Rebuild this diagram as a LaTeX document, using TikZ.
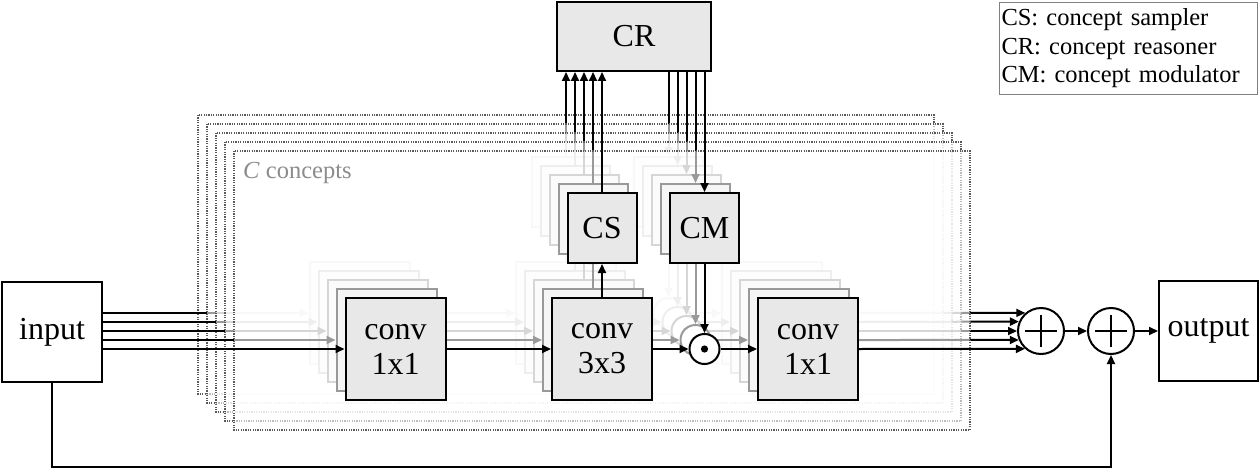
\documentclass[tikz,border=0pt]{standalone}
\usepackage{fontspec}
\setmainfont{Liberation Serif}
\usetikzlibrary{arrows.meta}
\definecolor{boxfill}{gray}{0.91}
\definecolor{framecol}{gray}{0.35}
\definecolor{labelgray}{gray}{0.55}
\newcommand\lblfont{\fontsize{32}{35}\selectfont}
\newcommand\smfont{\fontsize{24.5}{28.5}\selectfont}
\begin{document}
\begin{tikzpicture}[x=1pt,y=-1pt,
  arr/.style={line width=2pt, -{Triangle[length=9pt,width=8pt]}},
  blk/.style={draw, line width=2pt, fill=boxfill, inner sep=0pt},
  plainbox/.style={draw, line width=2pt, fill=white, inner sep=0pt, font=\lblfont},
  convbox/.style={blk, minimum width=100pt, minimum height=102pt},
  smallbox/.style={blk, minimum width=69pt, minimum height=70pt},
  lbl/.style={inner sep=0pt, align=center, font=\lblfont},
  odotc/.style={circle, draw, line width=2pt, fill=white, minimum size=30pt, inner sep=0pt,
    path picture={\fill[black] (path picture bounding box.center) circle (3.6pt);}},
  plusc/.style={circle, draw, line width=2pt, fill=white, minimum size=46pt, inner sep=0pt,
    path picture={\draw[black, line width=2pt] ([xshift=-16pt]path picture bounding box.center) -- ([xshift=16pt]path picture bounding box.center);
                  \draw[black, line width=2pt] ([yshift=-16pt]path picture bounding box.center) -- ([yshift=16pt]path picture bounding box.center);}},
  frame/.style={draw=framecol, line width=1.5pt, dash pattern=on 1.2pt off 1.2pt},
  legend/.style={draw=black!50, line width=1pt, align=left, font=\smfont, inner xsep=2pt, inner ysep=0pt,
    text width=254pt, minimum height=92pt}
]
\useasboundingbox (0,0) rectangle (1260,468);

% fixed nodes
\node[plainbox, minimum width=100pt, minimum height=100pt] (in) at (52,332) {input};
\node[plainbox, minimum width=99pt, minimum height=100pt] (out) at (1208.5,331) {output};
\node[blk, minimum width=154pt, minimum height=69pt, font=\lblfont] (cr) at (634,36.5) {CR};
\node[plusc] (p1) at (1041,331) {};
\node[plusc] (p2) at (1111,331) {};

% concept layers, back to front
\foreach \k in {0,...,4}{
  \pgfmathsetmacro\d{(4-\k)*9}
  \pgfmathsetmacro\ang{180-asin((\d-18)/24)}
  \begin{scope}[shift={(-\d,-\d)}]
    \fill[white, fill opacity=0.6] (234,151) rectangle (970,430);
    \draw[frame] (234,151) rectangle (970,430);
    \node[convbox] (ca\k) at (395.5,349) {};
    \node[convbox] (cc\k) at (602,349) {};
    \node[convbox] (cb\k) at (808,349) {};
    \node[smallbox] (cs\k) at (602,228) {};
    \node[smallbox] (cm\k) at (704.5,228) {};
    \node[odotc] (od\k) at (704.5,349) {};
    \draw[arr] (in.east |- ca\k.west) -- (ca\k.west);
    \draw[arr] (ca\k.east) -- (cc\k.west);
    \draw[arr] (cc\k.north) -- (cs\k.south);
    \draw[arr] (cs\k.north) -- (cs\k.north |- cr.south);
    \draw[arr] (cm\k.north |- cr.south) -- (cm\k.north);
    \draw[arr] (cm\k.south) -- (od\k.north);
    \draw[arr] (cc\k.east) -- (od\k.west);
    \draw[arr] (od\k.east) -- (cb\k.west);
    \draw[arr] (cb\k.east) -- (p1.\ang);
  \end{scope}
}

% labels of the front layer
\node[anchor=base west, inner sep=0pt, font=\smfont, text=labelgray] (cl) at (243,178) {\textit{C} concepts};
\node[lbl] (tca) at (ca4) {conv\\1x1};
\node[lbl] (tcc) at (cc4) {conv\\3x3};
\node[lbl] (tcb) at (cb4) {conv\\1x1};
\node[lbl] (tcs) at (cs4) {CS};
\node[lbl] (tcm) at (cm4) {CM};

% outputs
\draw[arr] (p1.east) -- (p2.west);
\draw[arr] (p2.east) -- (out.west);
\draw[arr] (in.south) -- ++(0,84) -| (p2.south);

% legend
\node[legend, anchor=north west] (leg) at (999,2) {CS: concept sampler\\CR: concept reasoner\\CM: concept modulator};
\end{tikzpicture}
\end{document}
